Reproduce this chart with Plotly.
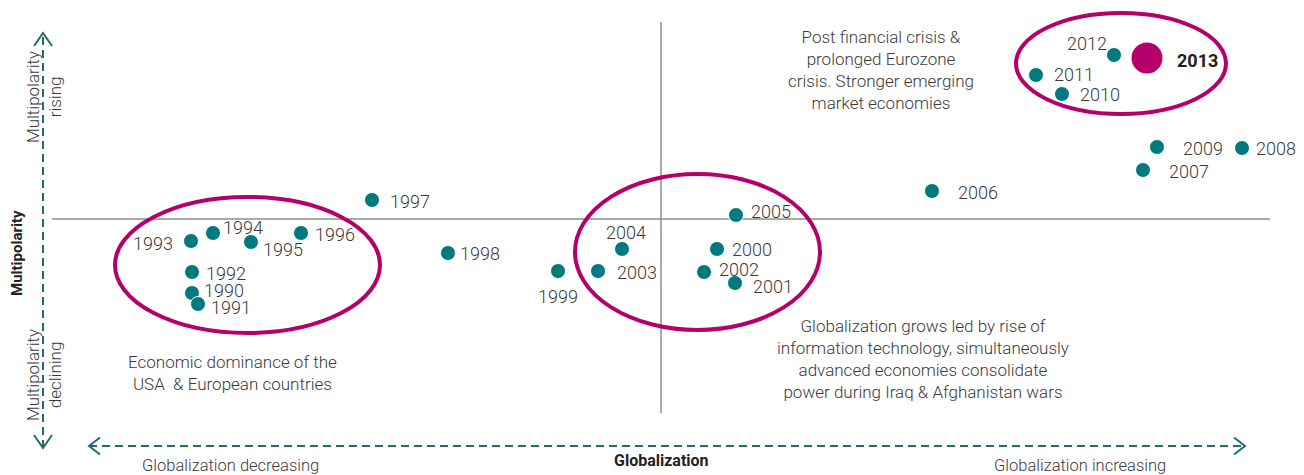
import plotly.graph_objects as go

# ---------------- data ----------------
years = [1990, 1991, 1992, 1993, 1994, 1995, 1996, 1997, 1998, 1999,
         2000, 2001, 2002, 2003, 2004, 2005, 2006, 2007, 2008, 2009,
         2010, 2011, 2012, 2013]
globalization = [-46.9, -46.3, -46.9, -47.0, -44.8, -41.0, -36.0, -28.9, -21.3, -10.3,
                 5.6, 7.4, 4.3, -6.3, -3.9, 7.5, 27.1, 48.2, 58.1, 49.6,
                 40.1, 37.5, 45.3, 48.6]
multipolarity = [-7.4, -8.5, -5.3, -2.2, -1.4, -2.3, -1.4, 1.9, -3.4, -5.2,
                 -3.0, -6.4, -5.3, -5.2, -3.0, 0.4, 2.8, 4.9, 7.1, 7.2,
                 12.5, 14.4, 16.4, 16.1]

# label placement (pixel offsets from the dot) - style only
label_dx = [10, 11, 12, -16, 8, 10, 12, 16, 10, 0,
            13, 16, 13, 17, 4, 13, 24, 24, 12, 24,
            16, 16, -5, 28]
label_dy = [-3, 3, 1, 2, -6, 7, 1, 1, 0, 25,
            0, 3, -3, 1, -17, -4, 1, 1, 0, 1,
            0, -1, -12, 2]
label_anchor = ["left", "left", "left", "right", "left", "left", "left", "left", "left", "center",
                "left", "left", "left", "left", "center", "left", "left", "left", "left", "left",
                "left", "left", "right", "left"]

# phase groupings (ellipse extents in chart units)
groups = [
    {"x0": -54.6, "x1": -28.1, "y0": -11.4, "y1": 2.2},
    {"x0": -8.6, "x1": 15.9, "y0": -11.1, "y1": 4.5},
    {"x0": 35.5, "x1": 56.5, "y0": 10.5, "y1": 20.6},
]

notes = [
    {"text": "Post financial crisis &<br>prolonged Eurozone<br>crisis. Stronger emerging<br>market economies",
     "x": 22.0, "y": 14.95},
    {"text": "Economic dominance of the<br>USA  &amp; European countries", "x": -42.85, "y": -15.35},
    {"text": "Globalization grows led by rise of<br>information technology, simultaneously<br>"
             "advanced economies consolidate<br>power during Iraq &amp; Afghanistan wars",
     "x": 26.2, "y": -14.0},
]

TEAL = "#007a7e"
MAGENTA = "#b5006b"
ARROW = "#1f6c72"
TXT = "#3a3a3a"
FONT = "Roboto, 'Liberation Sans', Arial, sans-serif"

# page body has an 8px margin: the figure is offset so chart units land where intended
XR = [-65.3, 64.3]
YR = [-25.6, 21.1]

fig = go.Figure()

is_last = [y == 2013 for y in years]
fig.add_trace(go.Scatter(
    x=globalization, y=multipolarity, mode="markers",
    marker=dict(size=[31 if l else 15 for l in is_last],
                color=[MAGENTA if l else TEAL for l in is_last],
                line=dict(width=[0 if l else 1 for l in is_last], color="white"),
                opacity=1),
    hoverinfo="text", text=[str(y) for y in years], showlegend=False,
))

annotations = []
for yr, gx, my, dx, dy, anc, l in zip(years, globalization, multipolarity,
                                      label_dx, label_dy, label_anchor, is_last):
    annotations.append(dict(
        x=gx, y=my, xref="x", yref="y", text=(f"<b>{yr}</b>" if l else str(yr)),
        showarrow=False, xanchor=anc, yanchor="middle", xshift=dx, yshift=-dy,
        font=dict(family=FONT, size=18, color="#222222" if l else TXT, weight=700 if l else 300),
    ))

for n in notes:
    annotations.append(dict(
        x=n["x"], y=n["y"], xref="x", yref="y", text=n["text"], showarrow=False,
        align="center", xanchor="center", yanchor="middle",
        font=dict(family=FONT, size=17, color=TXT, weight=300),
    ))

# axis titles
annotations += [
    dict(x=-64.4, y=-3.4, text="<b>Multipolarity</b>", textangle=-90, showarrow=False,
         xanchor="center", yanchor="middle", font=dict(family=FONT, size=15, color="#222222")),
    dict(x=-61.7, y=12.2, text="Multipolarity<br>rising", textangle=-90, showarrow=False,
         xanchor="center", yanchor="middle", font=dict(family=FONT, size=17, color=TXT, weight=300)),
    dict(x=-61.7, y=-15.6, text="Multipolarity<br>declining", textangle=-90, showarrow=False,
         xanchor="center", yanchor="middle", font=dict(family=FONT, size=17, color=TXT, weight=300)),
    dict(x=0.05, y=-24.1, text="<b>Globalization</b>", showarrow=False,
         xanchor="center", yanchor="middle", font=dict(family=FONT, size=16, color="#222222")),
    dict(x=-52.1, y=-24.6, text="Globalization decreasing", showarrow=False,
         xanchor="left", yanchor="middle", font=dict(family=FONT, size=16.5, color=TXT, weight=300)),
    dict(x=41.9, y=-24.6, text="Globalization increasing", showarrow=False,
         xanchor="center", yanchor="middle", font=dict(family=FONT, size=16.5, color=TXT, weight=300)),
]

shapes = []
# quadrant lines
shapes.append(dict(type="line", x0=-60.9, x1=60.9, y0=0, y1=0,
                   line=dict(color="#8e8e8e", width=1.5), layer="below"))
shapes.append(dict(type="line", x0=0, x1=0, y0=-19.4, y1=19.7,
                   line=dict(color="#8e8e8e", width=1.5), layer="below"))
# ellipses
for g in groups:
    shapes.append(dict(type="circle", x0=g["x0"], x1=g["x1"], y0=g["y0"], y1=g["y1"],
                       line=dict(color=MAGENTA, width=4), layer="above"))
# dashed axis arrows
vx, vt, vb = -61.8, 18.6, -22.9
hy, hl, hr = -22.7, -57.2, 58.4
shapes.append(dict(type="line", x0=vx, x1=vx, y0=vb, y1=vt,
                   line=dict(color=ARROW, width=2, dash="8px,5px")))
shapes.append(dict(type="line", x0=hl, x1=hr, y0=hy, y1=hy,
                   line=dict(color=ARROW, width=2, dash="8px,5px")))
chev = dict(color=ARROW, width=2)
shapes.append(dict(type="path", path=f"M {vx-0.9} {vt-1.3} L {vx} {vt} L {vx+0.9} {vt-1.3}", line=chev))
shapes.append(dict(type="path", path=f"M {vx-0.9} {vb+1.3} L {vx} {vb} L {vx+0.9} {vb+1.3}", line=chev))
shapes.append(dict(type="path", path=f"M {hl+1.1} {hy+0.85} L {hl} {hy} L {hl+1.1} {hy-0.85}", line=chev))
shapes.append(dict(type="path", path=f"M {hr-1.1} {hy+0.85} L {hr} {hy} L {hr-1.1} {hy-0.85}", line=chev))

fig.update_layout(
    width=1296, height=467,
    margin=dict(l=0, r=0, t=0, b=0, pad=0),
    paper_bgcolor="white", plot_bgcolor="white",
    xaxis=dict(range=XR, visible=False, fixedrange=True),
    yaxis=dict(range=YR, visible=False, fixedrange=True),
    annotations=annotations, shapes=shapes, showlegend=False,
)

fig.write_html("out.html")
